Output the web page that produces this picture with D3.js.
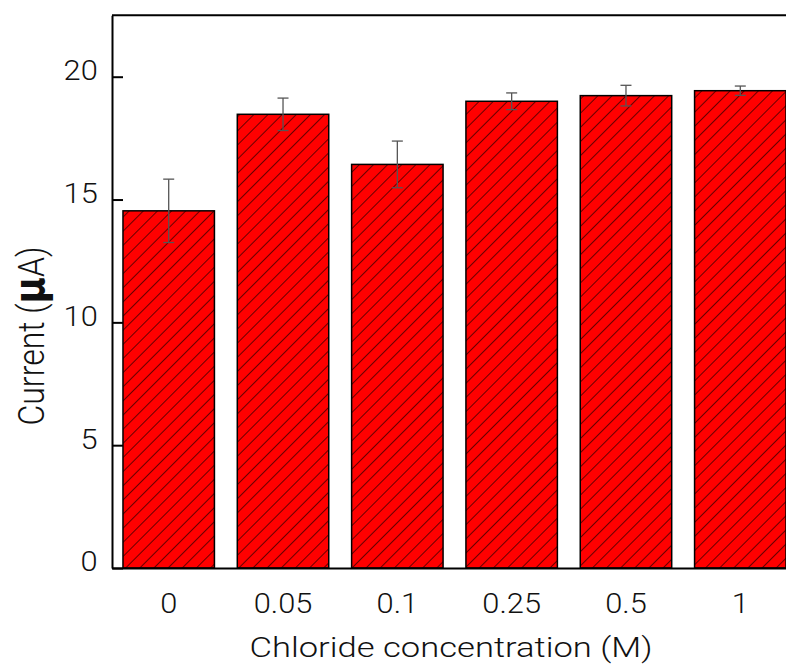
<!DOCTYPE html>
<html>
<head>
<meta charset="utf-8">
<script src="https://cdn.jsdelivr.net/npm/d3@7"></script>
<style>
  body { margin: 0; background: #fff; }
  .chart text { font-family: Roboto, "Liberation Sans", sans-serif; font-weight: 300; fill: #111; }
</style>
</head>
<body>
<div class="chart"></div>
<script>
var svgWidth = 786;
var svgHeight = 667;

// data
var categories = ["0", "0.05", "0.1", "0.25", "0.5", "1"];
var currents = [14.54, 18.47, 16.43, 19.0, 19.23, 19.43];
var errors = [1.29, 0.66, 0.95, 0.34, 0.42, 0.19];
var yTicks = [0, 5, 10, 15, 20];

var plot = { left: 112, right: 797, top: 15.3, bottom: 568 };

var svg = d3.select(".chart")
  .append("svg")
  .attr("width", svgWidth)
  .attr("height", svgHeight);

// diagonal hatch
var defs = svg.append("defs");
var pattern = defs.append("pattern")
  .attr("id", "hatch")
  .attr("patternUnits", "userSpaceOnUse")
  .attr("width", 10)
  .attr("height", 10)
  .attr("patternTransform", "rotate(45)");
pattern.append("rect")
  .attr("width", 10)
  .attr("height", 10)
  .attr("fill", "#ff0000");
pattern.append("line")
  .attr("x1", 0).attr("y1", 0)
  .attr("x2", 0).attr("y2", 10)
  .attr("stroke", "#000")
  .attr("stroke-width", 1.2);

var xScale = d3.scaleBand()
  .domain(categories)
  .range([plot.left, plot.right])
  .paddingInner(0.2)
  .paddingOuter(0.096);

var yScale = d3.scaleLinear()
  .domain([0, 22.5])
  .range([plot.bottom, plot.top]);

var rows = categories.map(function(c, i) {
  return { cat: c, value: currents[i], err: errors[i] };
});

// bars
svg.selectAll("rect.bar")
  .data(rows)
  .enter()
  .append("rect")
  .attr("class", "bar")
  .attr("x", d => xScale(d.cat))
  .attr("y", d => yScale(d.value))
  .attr("width", xScale.bandwidth())
  .attr("height", d => yScale(0) - yScale(d.value))
  .attr("fill", "url(#hatch)")
  .attr("stroke", "#000")
  .attr("stroke-width", 1.5);

// error bars
var errGroup = svg.append("g")
  .attr("stroke", "#555")
  .attr("stroke-width", 1.3);
rows.forEach(function(d) {
  var cx = xScale(d.cat) + xScale.bandwidth() / 2;
  var yTop = yScale(d.value + d.err);
  var yBot = yScale(d.value - d.err);
  errGroup.append("line").attr("x1", cx).attr("x2", cx).attr("y1", yTop).attr("y2", yBot);
  errGroup.append("line").attr("x1", cx - 5.5).attr("x2", cx + 5.5).attr("y1", yTop).attr("y2", yTop);
  errGroup.append("line").attr("x1", cx - 5.5).attr("x2", cx + 5.5).attr("y1", yBot).attr("y2", yBot);
});

// axes
var leftAxis = d3.axisLeft(yScale)
  .tickValues(yTicks)
  .tickSizeInner(-11)
  .tickSizeOuter(0)
  .tickPadding(13);

var yAxisG = svg.append("g")
  .attr("transform", `translate(${plot.left}, 0)`)
  .call(leftAxis);
yAxisG.selectAll("line").attr("stroke", "#000").attr("stroke-width", 2);
yAxisG.select(".domain").attr("stroke", "#000").attr("stroke-width", 2);
yAxisG.selectAll("text")
  .attr("y", -6)
  .attr("transform", "scale(1.1, 1)")
  .style("font-size", "28px");

var bottomAxis = d3.axisBottom(xScale)
  .tickSize(0)
  .tickPadding(25);

var xAxisG = svg.append("g")
  .attr("transform", `translate(0, ${plot.bottom})`)
  .call(bottomAxis);
xAxisG.select(".domain").attr("stroke", "#000").attr("stroke-width", 2);
xAxisG.selectAll("text")
  .attr("transform", "scale(1.1, 1)")
  .style("font-size", "28px");

// top frame line
svg.append("line")
  .attr("x1", plot.left).attr("x2", plot.right)
  .attr("y1", plot.top).attr("y2", plot.top)
  .attr("stroke", "#000")
  .attr("stroke-width", 2);

// axis titles
svg.append("text")
  .attr("x", 451)
  .attr("y", 657)
  .attr("text-anchor", "middle")
  .attr("textLength", 403)
  .attr("lengthAdjust", "spacingAndGlyphs")
  .style("font-size", "28px")
  .text("Chloride concentration (M)");

var yTitle = svg.append("text")
  .attr("transform", "translate(44, 336) scale(1.18, 1) rotate(-90)")
  .attr("text-anchor", "middle")
  .style("font-size", "32px");
yTitle.append("tspan").text("Current (");
yTitle.append("tspan")
  .style("font-weight", "bold")
  .style("font-size", "36px")
  .style("font-family", "'DejaVu Sans', sans-serif")
  .text("\u03bc");
yTitle.append("tspan").text("A)");
</script>
</body>
</html>
